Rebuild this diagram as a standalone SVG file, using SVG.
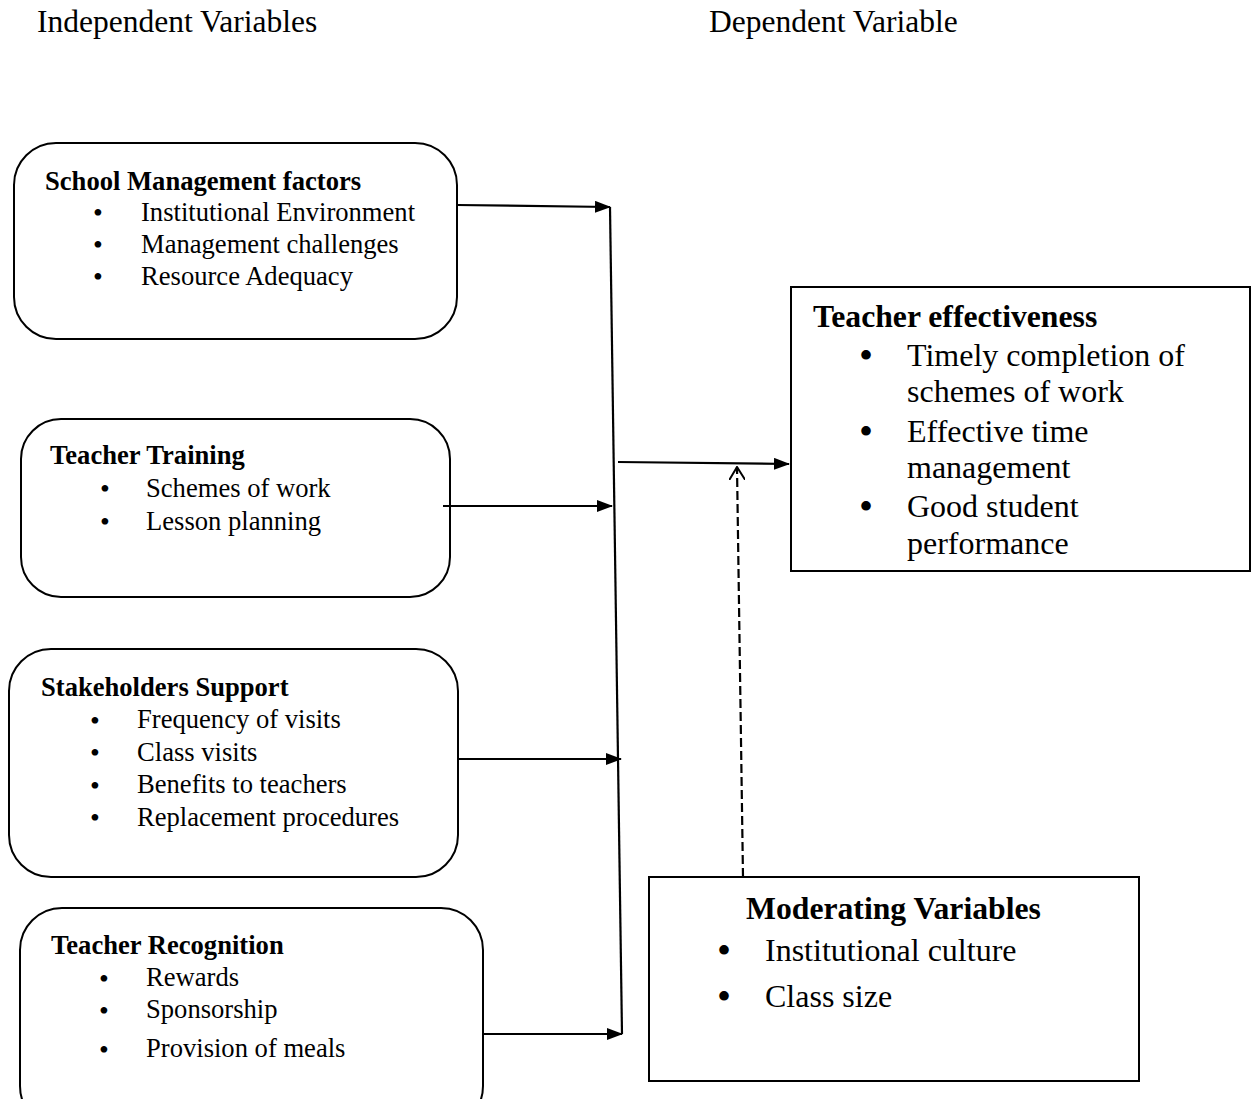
<svg xmlns="http://www.w3.org/2000/svg" width="1254" height="1099" viewBox="0 0 1254 1099">
<style>
text{font-family:"Liberation Serif","Times New Roman",serif;fill:#000}
.h{font-size:31.5px}
.t{font-size:26.6px;font-weight:bold}
.i{font-size:26.6px}
.b{font-size:28px;text-anchor:middle}
.T{font-size:31.7px;font-weight:bold}
.I{font-size:32px}
.B{font-size:40px;text-anchor:middle}
.box{fill:#fff;stroke:#000;stroke-width:2}
.ln{stroke:#000;stroke-width:2.2;fill:none}
</style>
<defs>
<marker id="ah" markerWidth="16" markerHeight="12" refX="15" refY="6" orient="auto" markerUnits="userSpaceOnUse">
<path d="M0,0 L16,6 L0,12 Z" fill="#000"/>
</marker>
<marker id="oa" markerWidth="14" markerHeight="16" refX="13" refY="8" orient="auto" markerUnits="userSpaceOnUse">
<path d="M0,0 L13,8 L0,16" fill="none" stroke="#000" stroke-width="2"/>
</marker>
</defs>
<rect width="1254" height="1099" fill="#fff"/>
<text class="h" x="37" y="32">Independent Variables</text>
<text class="h" x="709" y="32">Dependent Variable</text>

<g id="school-management">
<rect class="box" x="14" y="143" width="443" height="196" rx="42"/>
<text class="t" x="45" y="190">School Management factors</text>
<text class="b" x="98" y="222">•</text><text class="i" x="141" y="221">Institutional Environment</text>
<text class="b" x="98" y="254">•</text><text class="i" x="141" y="253">Management challenges</text>
<text class="b" x="98" y="286">•</text><text class="i" x="141" y="285">Resource Adequacy</text>
</g>

<g id="teacher-training">
<rect class="box" x="21" y="419" width="429" height="178" rx="40"/>
<text class="t" x="50" y="464">Teacher Training</text>
<text class="b" x="105" y="498">•</text><text class="i" x="146" y="497">Schemes of work</text>
<text class="b" x="105" y="531">•</text><text class="i" x="146" y="530">Lesson planning</text>
</g>

<g id="stakeholders-support">
<rect class="box" x="9" y="649" width="449" height="228" rx="42"/>
<text class="t" x="41" y="696">Stakeholders Support</text>
<text class="b" x="95" y="730">•</text><text class="i" x="137" y="728">Frequency of visits</text>
<text class="b" x="95" y="762">•</text><text class="i" x="137" y="761">Class visits</text>
<text class="b" x="95" y="795">•</text><text class="i" x="137" y="793">Benefits to teachers</text>
<text class="b" x="95" y="827">•</text><text class="i" x="137" y="826">Replacement procedures</text>
</g>

<g id="teacher-recognition">
<rect class="box" x="20" y="908" width="463" height="220" rx="42"/>
<text class="t" x="51" y="954">Teacher Recognition</text>
<text class="b" x="104" y="988">•</text><text class="i" x="146" y="986">Rewards</text>
<text class="b" x="104" y="1020">•</text><text class="i" x="146" y="1018">Sponsorship</text>
<text class="b" x="104" y="1059">•</text><text class="i" x="146" y="1057">Provision of meals</text>
</g>

<g id="teacher-effectiveness">
<rect class="box" x="791" y="287" width="459" height="284"/>
<text class="T" x="813" y="327">Teacher effectiveness</text>
<text class="B" x="866" y="369">•</text><text class="I" x="907" y="366">Timely completion of</text>
<text class="I" x="907" y="402">schemes of work</text>
<text class="B" x="866" y="445">•</text><text class="I" x="907" y="442">Effective time</text>
<text class="I" x="907" y="478">management</text>
<text class="B" x="866" y="520">•</text><text class="I" x="907" y="517">Good student</text>
<text class="I" x="907" y="554">performance</text>
</g>

<g id="moderating-variables">
<rect class="box" x="649" y="877" width="490" height="204"/>
<text class="T" x="746" y="919">Moderating Variables</text>
<text class="B" x="724" y="964">•</text><text class="I" x="765" y="961">Institutional culture</text>
<text class="B" x="724" y="1010">•</text><text class="I" x="765" y="1007">Class size</text>
</g>

<g id="connectors">
<line class="ln" x1="610" y1="207" x2="622" y2="1034"/>
<line class="ln" x1="457" y1="205" x2="610" y2="207" marker-end="url(#ah)"/>
<line class="ln" x1="443" y1="506" x2="612" y2="506" marker-end="url(#ah)"/>
<line class="ln" x1="458" y1="759" x2="621" y2="759" marker-end="url(#ah)"/>
<line class="ln" x1="483" y1="1034" x2="622" y2="1034" marker-end="url(#ah)"/>
<line class="ln" x1="618" y1="462" x2="789" y2="464" marker-end="url(#ah)"/>
<line class="ln" x1="743" y1="877" x2="737" y2="467" stroke-dasharray="9,4" stroke-width="2" marker-end="url(#oa)"/>
</g>
</svg>
